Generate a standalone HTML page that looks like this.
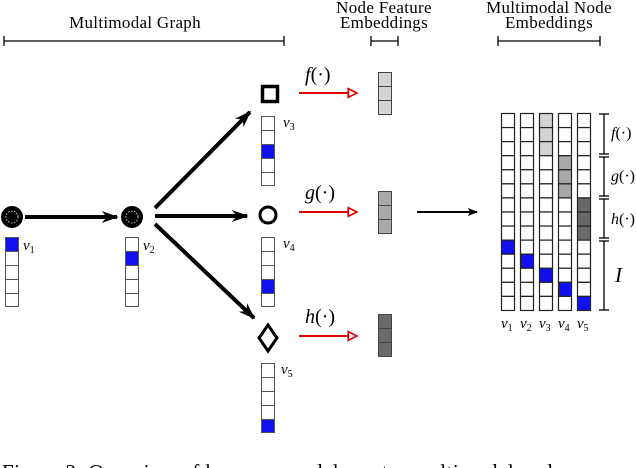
<!DOCTYPE html>
<html><head><meta charset="utf-8"><style>
html,body{margin:0;padding:0;background:#fff;overflow:hidden}
svg{display:block}
text{font-family:"Liberation Serif",serif;fill:#000}
.it{font-style:italic}
</style></head><body>
<svg width="636" height="468" viewBox="0 0 636 468" xmlns="http://www.w3.org/2000/svg">
<defs>
<marker id="ab" viewBox="0 0 10 10" refX="9" refY="5" markerWidth="10" markerHeight="10" orient="auto" markerUnits="userSpaceOnUse"><path d="M0,1 L10,5 L0,9 L2,5 z" fill="#000"/></marker>
<marker id="ab2" viewBox="0 0 10 10" refX="9" refY="5" markerWidth="17" markerHeight="17" orient="auto" markerUnits="userSpaceOnUse"><path d="M0,1.5 L10,5 L0,8.5 L3,5 z" fill="#000"/></marker>
<marker id="ar" viewBox="0 0 10 10" refX="9" refY="5" markerWidth="11" markerHeight="11" orient="auto" markerUnits="userSpaceOnUse"><path d="M1,1 L9,5 L1,9 z" fill="#fff" stroke="#d00" stroke-width="1.5"/></marker>
</defs>

<g font-size="17" letter-spacing="0.3">
<text x="135" y="28" text-anchor="middle">Multimodal Graph</text>
<text x="384" y="13" text-anchor="middle">Node Feature</text>
<text x="384" y="28" text-anchor="middle">Embeddings</text>
<text x="549" y="13" text-anchor="middle">Multimodal Node</text>
<text x="549" y="28" text-anchor="middle">Embeddings</text>
</g>
<g stroke="#000" stroke-width="1.3">
<line x1="4" y1="41" x2="284" y2="41"/><line x1="4" y1="36" x2="4" y2="46"/><line x1="284" y1="36" x2="284" y2="46"/>
<line x1="371" y1="41" x2="398" y2="41"/><line x1="371" y1="36" x2="371" y2="46"/><line x1="398" y1="36" x2="398" y2="46"/>
<line x1="498" y1="41" x2="600" y2="41"/><line x1="498" y1="36" x2="498" y2="46"/><line x1="600" y1="36" x2="600" y2="46"/>
</g>

<circle cx="12" cy="217" r="11" fill="#000"/>
<circle cx="12" cy="217" r="6" fill="none" stroke="#fff" stroke-width="0.8" stroke-dasharray="1.5 1.5"/>
<circle cx="132" cy="217" r="11" fill="#000"/>
<circle cx="132" cy="217" r="6" fill="none" stroke="#fff" stroke-width="0.8" stroke-dasharray="1.5 1.5"/>

<g stroke="#000" stroke-width="4" fill="none">
<line x1="25" y1="217" x2="117" y2="217" marker-end="url(#ab2)"/>
<line x1="155" y1="208" x2="250" y2="112" marker-end="url(#ab2)"/>
<line x1="155" y1="216" x2="247" y2="216" marker-end="url(#ab2)"/>
<line x1="155" y1="224" x2="254" y2="318" marker-end="url(#ab2)"/>
</g>

<rect x="262.5" y="86.5" width="15" height="15" fill="none" stroke="#000" stroke-width="3.5"/>
<circle cx="268" cy="215" r="8" fill="none" stroke="#000" stroke-width="3"/>
<polygon points="268,325 277,338 268,351 259,338" fill="none" stroke="#000" stroke-width="3"/>

<g stroke="#555" stroke-width="1">
<rect x="5.5" y="237.5" width="13" height="14" fill="#1010f0"/>
<rect x="5.5" y="251.5" width="13" height="14" fill="#fff"/>
<rect x="5.5" y="265.5" width="13" height="14" fill="#fff"/>
<rect x="5.5" y="279.5" width="13" height="14" fill="#fff"/>
<rect x="5.5" y="293.5" width="13" height="13" fill="#fff"/>
<rect x="125.5" y="237.5" width="13" height="14" fill="#fff"/>
<rect x="125.5" y="251.5" width="13" height="14" fill="#1010f0"/>
<rect x="125.5" y="265.5" width="13" height="14" fill="#fff"/>
<rect x="125.5" y="279.5" width="13" height="14" fill="#fff"/>
<rect x="125.5" y="293.5" width="13" height="13" fill="#fff"/>
<rect x="261.5" y="116.5" width="13" height="14" fill="#fff"/>
<rect x="261.5" y="130.5" width="13" height="14" fill="#fff"/>
<rect x="261.5" y="144.5" width="13" height="14" fill="#1010f0"/>
<rect x="261.5" y="158.5" width="13" height="14" fill="#fff"/>
<rect x="261.5" y="172.5" width="13" height="13" fill="#fff"/>
<rect x="261.5" y="237.5" width="13" height="14" fill="#fff"/>
<rect x="261.5" y="251.5" width="13" height="14" fill="#fff"/>
<rect x="261.5" y="265.5" width="13" height="14" fill="#fff"/>
<rect x="261.5" y="279.5" width="13" height="14" fill="#1010f0"/>
<rect x="261.5" y="293.5" width="13" height="13" fill="#fff"/>
<rect x="261.5" y="363.5" width="13" height="14" fill="#fff"/>
<rect x="261.5" y="377.5" width="13" height="14" fill="#fff"/>
<rect x="261.5" y="391.5" width="13" height="14" fill="#fff"/>
<rect x="261.5" y="405.5" width="13" height="14" fill="#fff"/>
<rect x="261.5" y="419.5" width="13" height="13" fill="#1010f0"/>
</g>
<g font-size="15">
<text x="23" y="250" class="it">v<tspan font-size="10" dy="3" font-style="normal">1</tspan></text>
<text x="143" y="250" class="it">v<tspan font-size="10" dy="3" font-style="normal">2</tspan></text>
<text x="283" y="127" class="it">v<tspan font-size="10" dy="3" font-style="normal">3</tspan></text>
<text x="283" y="248" class="it">v<tspan font-size="10" dy="3" font-style="normal">4</tspan></text>
<text x="281" y="374" class="it">v<tspan font-size="10" dy="3" font-style="normal">5</tspan></text>
</g>

<g stroke="#d00" stroke-width="2">
<line x1="299" y1="93" x2="357" y2="93" marker-end="url(#ar)"/>
<line x1="299" y1="212" x2="357" y2="212" marker-end="url(#ar)"/>
<line x1="299" y1="336" x2="357" y2="336" marker-end="url(#ar)"/>
</g>
<g font-size="20">
<text x="305" y="81"><tspan class="it">f</tspan>(·)</text>
<text x="305" y="199"><tspan class="it">g</tspan>(·)</text>
<text x="305" y="323"><tspan class="it">h</tspan>(·)</text>
</g>

<g stroke="#444" stroke-width="1">
<rect x="378.5" y="72.5" width="13" height="14" fill="#d3d3d3"/>
<rect x="378.5" y="86.5" width="13" height="14" fill="#d3d3d3"/>
<rect x="378.5" y="100.5" width="13" height="14" fill="#d3d3d3"/>
<rect x="378.5" y="191.5" width="13" height="14" fill="#a8a8a8"/>
<rect x="378.5" y="205.5" width="13" height="14" fill="#a8a8a8"/>
<rect x="378.5" y="219.5" width="13" height="14" fill="#a8a8a8"/>
<rect x="378.5" y="314.5" width="13" height="14" fill="#6a6a6a"/>
<rect x="378.5" y="328.5" width="13" height="14" fill="#6a6a6a"/>
<rect x="378.5" y="342.5" width="13" height="14" fill="#6a6a6a"/>
</g>

<line x1="417" y1="212" x2="477" y2="212" stroke="#000" stroke-width="2" marker-end="url(#ab)"/>

<g stroke="#222" stroke-width="1.2" id="mat"></g>
<script>
(function(){
var g=document.getElementById('mat'),ns='http://www.w3.org/2000/svg';
var xs=[501,520,539,558,577];
for(var c=0;c<5;c++){for(var r=0;r<14;r++){
var f='#fff';
if(r==9+c)f='#1010f0';
if(c==2&&r<3)f='#d3d3d3';
if(c==3&&r>=3&&r<6)f='#a8a8a8';
if(c==4&&r>=6&&r<9)f='#6a6a6a';
var e=document.createElementNS(ns,'rect');
e.setAttribute('x',xs[c]+0.5);e.setAttribute('y',113.5+r*14.07);
e.setAttribute('width',13);e.setAttribute('height',14.07);e.setAttribute('fill',f);
g.appendChild(e);}}
})();
</script>
<g stroke="#000" stroke-width="1.3">
<line x1="604" y1="114" x2="604" y2="154"/>
<line x1="604" y1="157" x2="604" y2="196"/>
<line x1="604" y1="199" x2="604" y2="238"/>
<line x1="604" y1="241" x2="604" y2="310"/>
<line x1="599" y1="114" x2="609" y2="114"/>
<line x1="599" y1="154" x2="609" y2="154"/>
<line x1="599" y1="157" x2="609" y2="157"/>
<line x1="599" y1="196" x2="609" y2="196"/>
<line x1="599" y1="199" x2="609" y2="199"/>
<line x1="599" y1="238" x2="609" y2="238"/>
<line x1="599" y1="241" x2="609" y2="241"/>
<line x1="599" y1="310" x2="609" y2="310"/>
</g>
<g font-size="16">
<text x="611" y="138"><tspan class="it">f</tspan>(·)</text>
<text x="611" y="181"><tspan class="it">g</tspan>(·)</text>
<text x="611" y="224"><tspan class="it">h</tspan>(·)</text>
</g>
<text x="615" y="282" font-size="21" class="it">I</text>
<g font-size="15">
<text x="501" y="328" class="it">v<tspan font-size="10" dy="3" font-style="normal">1</tspan></text>
<text x="520" y="328" class="it">v<tspan font-size="10" dy="3" font-style="normal">2</tspan></text>
<text x="539" y="328" class="it">v<tspan font-size="10" dy="3" font-style="normal">3</tspan></text>
<text x="558" y="328" class="it">v<tspan font-size="10" dy="3" font-style="normal">4</tspan></text>
<text x="577" y="328" class="it">v<tspan font-size="10" dy="3" font-style="normal">5</tspan></text>
</g>

<text x="2" y="479" font-size="21" letter-spacing="0.5">Figure 2: Overview of how our model creates multimodal node</text>
</svg>
</body></html>
